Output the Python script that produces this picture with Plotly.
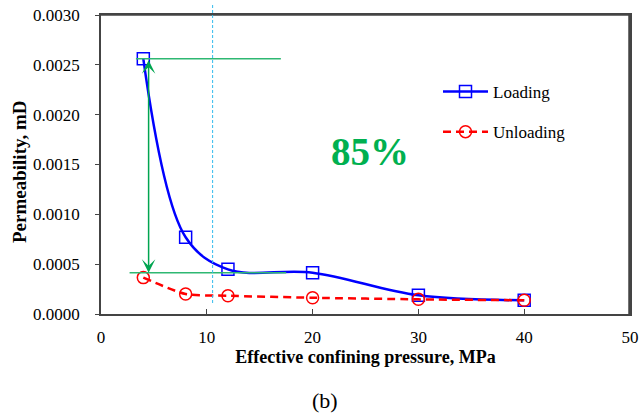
import plotly.graph_objects as go

# ---- data ----
pressure = [4, 8, 12, 20, 30, 40]
loading = [0.00256, 0.00077, 0.000448, 0.000414, 0.000187, 0.000138]
unloading = [0.000365, 0.000200, 0.000183, 0.000163, 0.000147, 0.000138]
x_ticks = [0, 10, 20, 30, 40, 50]
y_ticks = [0.0, 0.0005, 0.0010, 0.0015, 0.0020, 0.0025, 0.0030]
reduction_label = "85%"
low_level = 0.000414       # green reference line level after loading
marker_pressure = 10.55    # cyan reference line position

FONT = "Liberation Serif"
GREEN = "#00B050"
FRAME = "#444"

W, H = 641, 417
# plot area in page pixels: x 101..630, y 15..314
PL, PR, PT, PB = 101, 630, 15, 314
L, T, R, B = PL, PT, W - PR, H - PB
pw, ph = PR - PL, PB - PT


def px2paper(px, py):
    return (px - PL) / pw, (PB - py) / ph


fig = go.Figure()
fig.add_trace(go.Scatter(
    x=pressure, y=loading, name="Loading", legendgroup="a",
    mode="lines+markers", line=dict(color="#0000FF", width=2.5, shape="spline", smoothing=1),
    marker=dict(symbol="square-open", size=12, color="#0000FF", line=dict(width=1.5)),
))
fig.add_trace(go.Scatter(
    x=pressure, y=unloading, name="Unloading", legendgroup="b",
    mode="lines+markers", line=dict(color="#FF0000", width=2.5, dash="8px,5px", shape="spline", smoothing=0.6),
    marker=dict(symbol="circle-open", size=12, color="#FF0000", line=dict(width=1.5)),
))

vy0 = px2paper(0, 303)[1]
vy1 = px2paper(0, 3)[1]
shapes = [
    dict(type="line", xref="paper", yref="paper", x0=1 - 0.5 / pw, x1=1 - 0.5 / pw, y0=0, y1=1,
         line=dict(color=FRAME, width=2.5), layer="above"),
    dict(type="line", xref="paper", yref="paper", x0=0, x1=1, y0=1, y1=1,
         line=dict(color=FRAME, width=1.5), layer="above"),
    dict(type="line", xref="x", yref="y", x0=3.3, x1=17.0, y0=loading[0], y1=loading[0],
         line=dict(color="#2EB872", width=1.5)),
    dict(type="line", xref="x", yref="y", x0=2.7, x1=17.5, y0=low_level, y1=low_level,
         line=dict(color="#2EB872", width=1.5)),
    dict(type="line", xref="x", yref="paper", x0=marker_pressure, x1=marker_pressure, y0=vy0, y1=vy1,
         line=dict(color="#33BBEE", width=1, dash="3px,2px")),
]

annotations = [
    dict(x=4.5, y=low_level, ax=4.5, ay=loading[0], xref="x", yref="y", axref="x", ayref="y",
         text="", showarrow=True, arrowhead=3, startarrowhead=3, arrowside="end+start",
         arrowsize=1.5, startarrowsize=1.5, arrowwidth=1.5, arrowcolor="#00A550",
         standoff=0, startstandoff=0),
]
for (px, py, txt, sz, col) in [
    (370, 151, "<b>%s</b>" % reduction_label, 39, GREEN),
    (325, 400, "(b)", 22, "black"),
]:
    ax_, ay_ = px2paper(px, py)
    annotations.append(dict(x=ax_, y=ay_, xref="paper", yref="paper", text=txt, showarrow=False,
                            xanchor="center", yanchor="middle",
                            font=dict(family=FONT, size=sz, color=col)))
# y-axis title as rotated annotation
tx, ty = px2paper(19, 172)
annotations.append(dict(x=tx, y=ty, xref="paper", yref="paper", text="<b>Permeability, mD</b>",
                        textangle=-90, showarrow=False, xanchor="center", yanchor="middle",
                        font=dict(family=FONT, size=19, color="black")))

lx, ly = px2paper(441 - 3, 74)
fig.update_layout(
    width=W, height=H,
    margin=dict(l=L, r=R, t=T, b=B, autoexpand=False),
    paper_bgcolor="white", plot_bgcolor="white",
    font=dict(family=FONT, size=17, color="black"),
    showlegend=True,
    legend=dict(x=lx, y=ly, xanchor="left", yanchor="top",
                bgcolor="rgba(0,0,0,0)", font=dict(family=FONT, size=17),
                traceorder="grouped", tracegroupgap=15, itemwidth=45),
    shapes=shapes, annotations=annotations,
    xaxis=dict(range=[0, 50], tickvals=x_ticks, ticktext=[str(v) for v in x_ticks],
               ticks="inside", ticklen=5, tickcolor=FRAME,
               showline=True, linecolor=FRAME, linewidth=1.5, mirror=True,
               showgrid=False, zeroline=False, ticklabelstandoff=7, ticklabeloverflow="allow",
               tickfont=dict(family=FONT, size=17),
               title=dict(text="<b>Effective confining pressure, MPa</b>", standoff=4,
                          font=dict(family=FONT, size=18))),
    yaxis=dict(range=[0, 0.003], tickvals=y_ticks, ticktext=["%.4f" % v for v in y_ticks],
               ticks="outside", ticklen=4, tickcolor=FRAME,
               showline=True, linecolor=FRAME, linewidth=1.5, mirror=True,
               showgrid=False, zeroline=False, ticklabelstandoff=12, ticklabeloverflow="allow",
               tickfont=dict(family=FONT, size=17)),
)

fig.write_html("out.html", config={"displayModeBar": False},
               post_script="document.body.style.margin='0';document.body.style.overflow='hidden';")
